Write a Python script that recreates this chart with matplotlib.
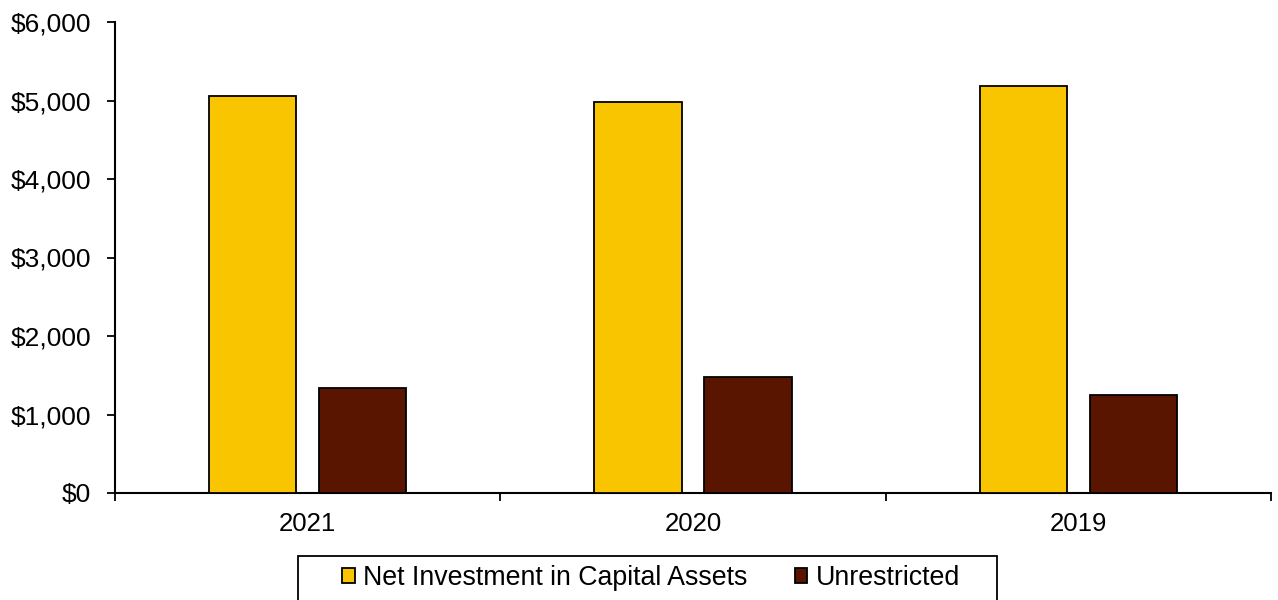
import matplotlib
matplotlib.use("Agg")
import matplotlib.pyplot as plt
import numpy as np
from matplotlib.patches import Rectangle
from matplotlib.ticker import FuncFormatter

categories = ["2021", "2020", "2019"]
net_investment = [5055, 4975, 5180]
unrestricted = [1333, 1476, 1243]
series_names = ["Net Investment in Capital Assets", "Unrestricted"]
colors = ["#F8C500", "#5A1500"]

plt.rcParams['font.family'] = ['Liberation Sans', 'DejaVu Sans']

fig = plt.figure(figsize=(12.78, 6.0), dpi=100)
ax = fig.add_axes([115/1278, 1-493/600, (1271-115)/1278, (493-22)/600])

x = np.arange(len(categories))
w = 0.226
off = 0.1427
ax.bar(x - off, net_investment, w, color=colors[0], edgecolor="black", linewidth=1.3, label=series_names[0], zorder=3)
ax.bar(x + off, unrestricted, w, color=colors[1], edgecolor="black", linewidth=1.3, label=series_names[1], zorder=3)

ax.set_xlim(-0.5, len(categories) - 0.5)
ax.set_ylim(0, 6000)
ax.set_yticks(np.arange(0, 6001, 1000))
ax.yaxis.set_major_formatter(FuncFormatter(lambda v, p: f"${v:,.0f}"))
ax.set_xticks(x)
ax.set_xticklabels(categories)
ax.set_xticks(np.arange(-0.5, len(categories)), minor=True)
ax.tick_params(axis='x', which='major', length=0, pad=14, labelsize=18.5)
ax.tick_params(axis='x', which='minor', length=6, width=1.3, direction='out')
ax.tick_params(axis='y', length=6, width=1.3, labelsize=19, pad=11)
for s in ['top', 'right']:
    ax.spines[s].set_visible(False)
for s in ['left', 'bottom']:
    ax.spines[s].set_linewidth(1.5)

# legend box
fig.patches.append(Rectangle((298/1278, -0.05), (997-298)/1278, 0.05 + (600-556)/600,
                             transform=fig.transFigure, fill=False, edgecolor="black",
                             linewidth=1.3, figure=fig))
leg = fig.legend(loc='center', bbox_to_anchor=(651/1278, 1-578/600), ncol=2, frameon=False,
                 fontsize=19.3, handlelength=0.48, handleheight=0.48, handletextpad=0.3,
                 columnspacing=1.75, borderpad=0)

fig.savefig("out.png", dpi=100)
